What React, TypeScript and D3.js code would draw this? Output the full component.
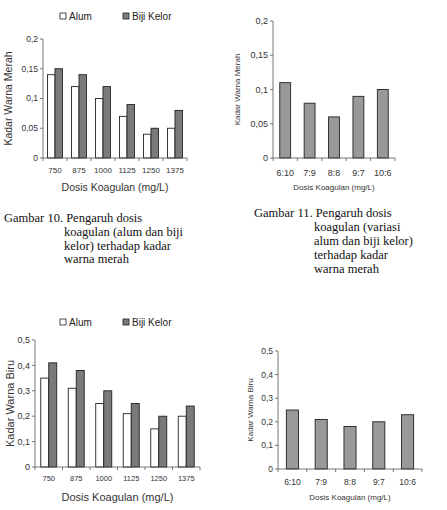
import * as d3 from 'd3';

// Dosis koagulan (alum / biji kelor) dan rasio variasi
const doses = ['750', '875', '1000', '1125', '1250', '1375'];
const ratios = ['6:10', '7:9', '8:8', '9:7', '10:6'];
const seriesNames = ['Alum', 'Biji Kelor'];

// Kadar warna merah
const merahAlum = [0.14, 0.12, 0.1, 0.07, 0.04, 0.05];
const merahKelor = [0.15, 0.14, 0.12, 0.09, 0.05, 0.08];
const merahVariasi = [0.11, 0.08, 0.06, 0.09, 0.1];

// Kadar warna biru
const biruAlum = [0.35, 0.31, 0.25, 0.21, 0.15, 0.2];
const biruKelor = [0.41, 0.38, 0.3, 0.25, 0.2, 0.24];
const biruVariasi = [0.25, 0.21, 0.18, 0.2, 0.23];

const merahTicks = [0, 0.05, 0.1, 0.15, 0.2];
const biruTicks = [0, 0.1, 0.2, 0.3, 0.4, 0.5];

const captionLeft = ['Gambar 10. Pengaruh dosis', 'koagulan (alum dan biji', 'kelor) terhadap kadar', 'warna merah'];
const captionRight = ['Gambar 11. Pengaruh dosis', 'koagulan (variasi', 'alum dan biji kelor)', 'terhadap kadar', 'warna merah'];

const SANS = 'Liberation Sans, Arial, sans-serif';
const SERIF = 'Liberation Serif, Times New Roman, serif';
const AXIS = '#555';

const fmt = (v: number) => String(+v.toFixed(2)).replace('.', ',');

interface PanelProps {
  left: number;
  right: number;
  top: number;
  bottom: number;
  max: number;
  ticks: number[];
  categories: string[];
  series: number[][];
  fills: string[];
  outerPad: number;
  innerPad: number;
  tickFont: number;
  catFont: number;
  titleFont: number;
  yLabel: string;
  yLabelX: number;
  titleY: number;
  catY: number;
}

const Panel = (p: PanelProps) => {
  const x = d3.scaleBand<string>().domain(p.categories).range([p.left, p.right]);
  const y = d3.scaleLinear().domain([0, p.max]).range([p.bottom, p.top]);
  const idx = d3.range(p.series.length).map(String);
  const inner = d3.scaleBand<string>()
    .domain(idx)
    .range([0, x.bandwidth()])
    .paddingInner(p.innerPad)
    .paddingOuter(p.outerPad);
  const boundaries = d3.range(p.categories.length + 1).map(i => p.left + i * x.step());
  return (
    <g>
      {p.series.map((vals, s) =>
        vals.map((v, i) => (
          <rect
            key={`${s}-${i}`}
            x={(x(p.categories[i]) ?? 0) + (inner(String(s)) ?? 0)}
            y={y(v)}
            width={inner.bandwidth()}
            height={p.bottom - y(v)}
            fill={p.fills[s]}
            stroke="#222"
            strokeWidth={0.9}
          />
        ))
      )}
      <line x1={p.left} x2={p.left} y1={p.top} y2={p.bottom} stroke={AXIS} strokeWidth={0.8} />
      <line x1={p.left} x2={p.right} y1={p.bottom} y2={p.bottom} stroke={AXIS} strokeWidth={0.8} />
      {p.ticks.map(t => (
        <g key={t}>
          <line x1={p.left - 3} x2={p.left} y1={y(t)} y2={y(t)} stroke={AXIS} strokeWidth={0.8} />
          <text x={p.left - 5} y={y(t)} dy="0.35em" textAnchor="end" fontSize={p.tickFont} fontFamily={SANS} fill="#333">
            {fmt(t)}
          </text>
        </g>
      ))}
      {boundaries.map(b => (
        <line key={b} x1={b} x2={b} y1={p.bottom} y2={p.bottom + 3} stroke={AXIS} strokeWidth={0.8} />
      ))}
      {p.categories.map(c => (
        <text key={c} x={(x(c) ?? 0) + x.bandwidth() / 2} y={p.catY} textAnchor="middle" fontSize={p.catFont} fontFamily={SANS} fill="#333">
          {c}
        </text>
      ))}
      <text x={(p.left + p.right) / 2} y={p.titleY} textAnchor="middle" fontSize={p.titleFont} fontFamily={SANS} fill="#333">
        Dosis Koagulan (mg/L)
      </text>
      <text
        transform={`translate(${p.yLabelX},${(p.top + p.bottom) / 2}) rotate(-90)`}
        textAnchor="middle"
        fontSize={p.titleFont}
        fontFamily={SANS}
        fill="#333"
      >
        {p.yLabel}
      </text>
    </g>
  );
};

const Legend = ({ y, fills }: { y: number; fills: string[] }) => {
  const xs = [60, 123];
  return (
    <g>
      {seriesNames.map((n, i) => (
        <g key={n}>
          <rect x={xs[i]} y={y - 4} width={6} height={6} fill={fills[i]} stroke="#222" strokeWidth={0.8} />
          <text x={xs[i] + 9} y={y} dy="0.33em" fontSize={10} fontFamily={SANS} fill="#222">{n}</text>
        </g>
      ))}
    </g>
  );
};

const Caption = ({ lines, x, indent, y, step }: { lines: string[]; x: number; indent: number; y: number; step: number }) => (
  <g>
    {lines.map((l, i) => (
      <text key={i} x={i === 0 ? x : indent} y={y + i * step} dy="0.35em" fontSize={12.5} fontFamily={SERIF} fill="#111">
        {l}
      </text>
    ))}
  </g>
);

export default function App() {
  const pairFills = ['#fff', '#7a7a7a'];
  return (
    <svg width={447} height={510} style={{ position: 'absolute', left: 0, top: 0, background: '#fff' }}>
      <Legend y={17} fills={pairFills} />
      <Panel
        left={43} right={187} top={39} bottom={158} max={0.2} ticks={merahTicks}
        categories={doses} series={[merahAlum, merahKelor]} fills={pairFills}
        outerPad={0.6} innerPad={0} tickFont={8.5} catFont={8} titleFont={10.5}
        yLabel="Kadar Warna Merah" yLabelX={12} titleY={191} catY={173}
      />
      <Panel
        left={273} right={395} top={21} bottom={158} max={0.2} ticks={merahTicks}
        categories={ratios} series={[merahVariasi]} fills={['#999']}
        outerPad={0.28} innerPad={0.55} tickFont={9} catFont={9} titleFont={8}
        yLabel="Kadar Warna Merah" yLabelX={240} titleY={190} catY={176}
      />
      <Caption lines={captionLeft} x={4} indent={64} y={218} step={13.7} />
      <Caption lines={captionRight} x={254} indent={314} y={213} step={14} />
      <Legend y={323} fills={pairFills} />
      <Panel
        left={35} right={200} top={340} bottom={467} max={0.5} ticks={biruTicks}
        categories={doses} series={[biruAlum, biruKelor]} fills={pairFills}
        outerPad={0.72} innerPad={0} tickFont={9} catFont={7.5} titleFont={11}
        yLabel="Kadar Warna Biru" yLabelX={14} titleY={501} catY={481}
      />
      <Panel
        left={278} right={422} top={351} bottom={469} max={0.5} ticks={biruTicks}
        categories={ratios} series={[biruVariasi]} fills={['#999']}
        outerPad={0.29} innerPad={0.58} tickFont={8.5} catFont={8.5} titleFont={8}
        yLabel="Kadar Warna Biru" yLabelX={253} titleY={500} catY={485}
      />
    </svg>
  );
}
